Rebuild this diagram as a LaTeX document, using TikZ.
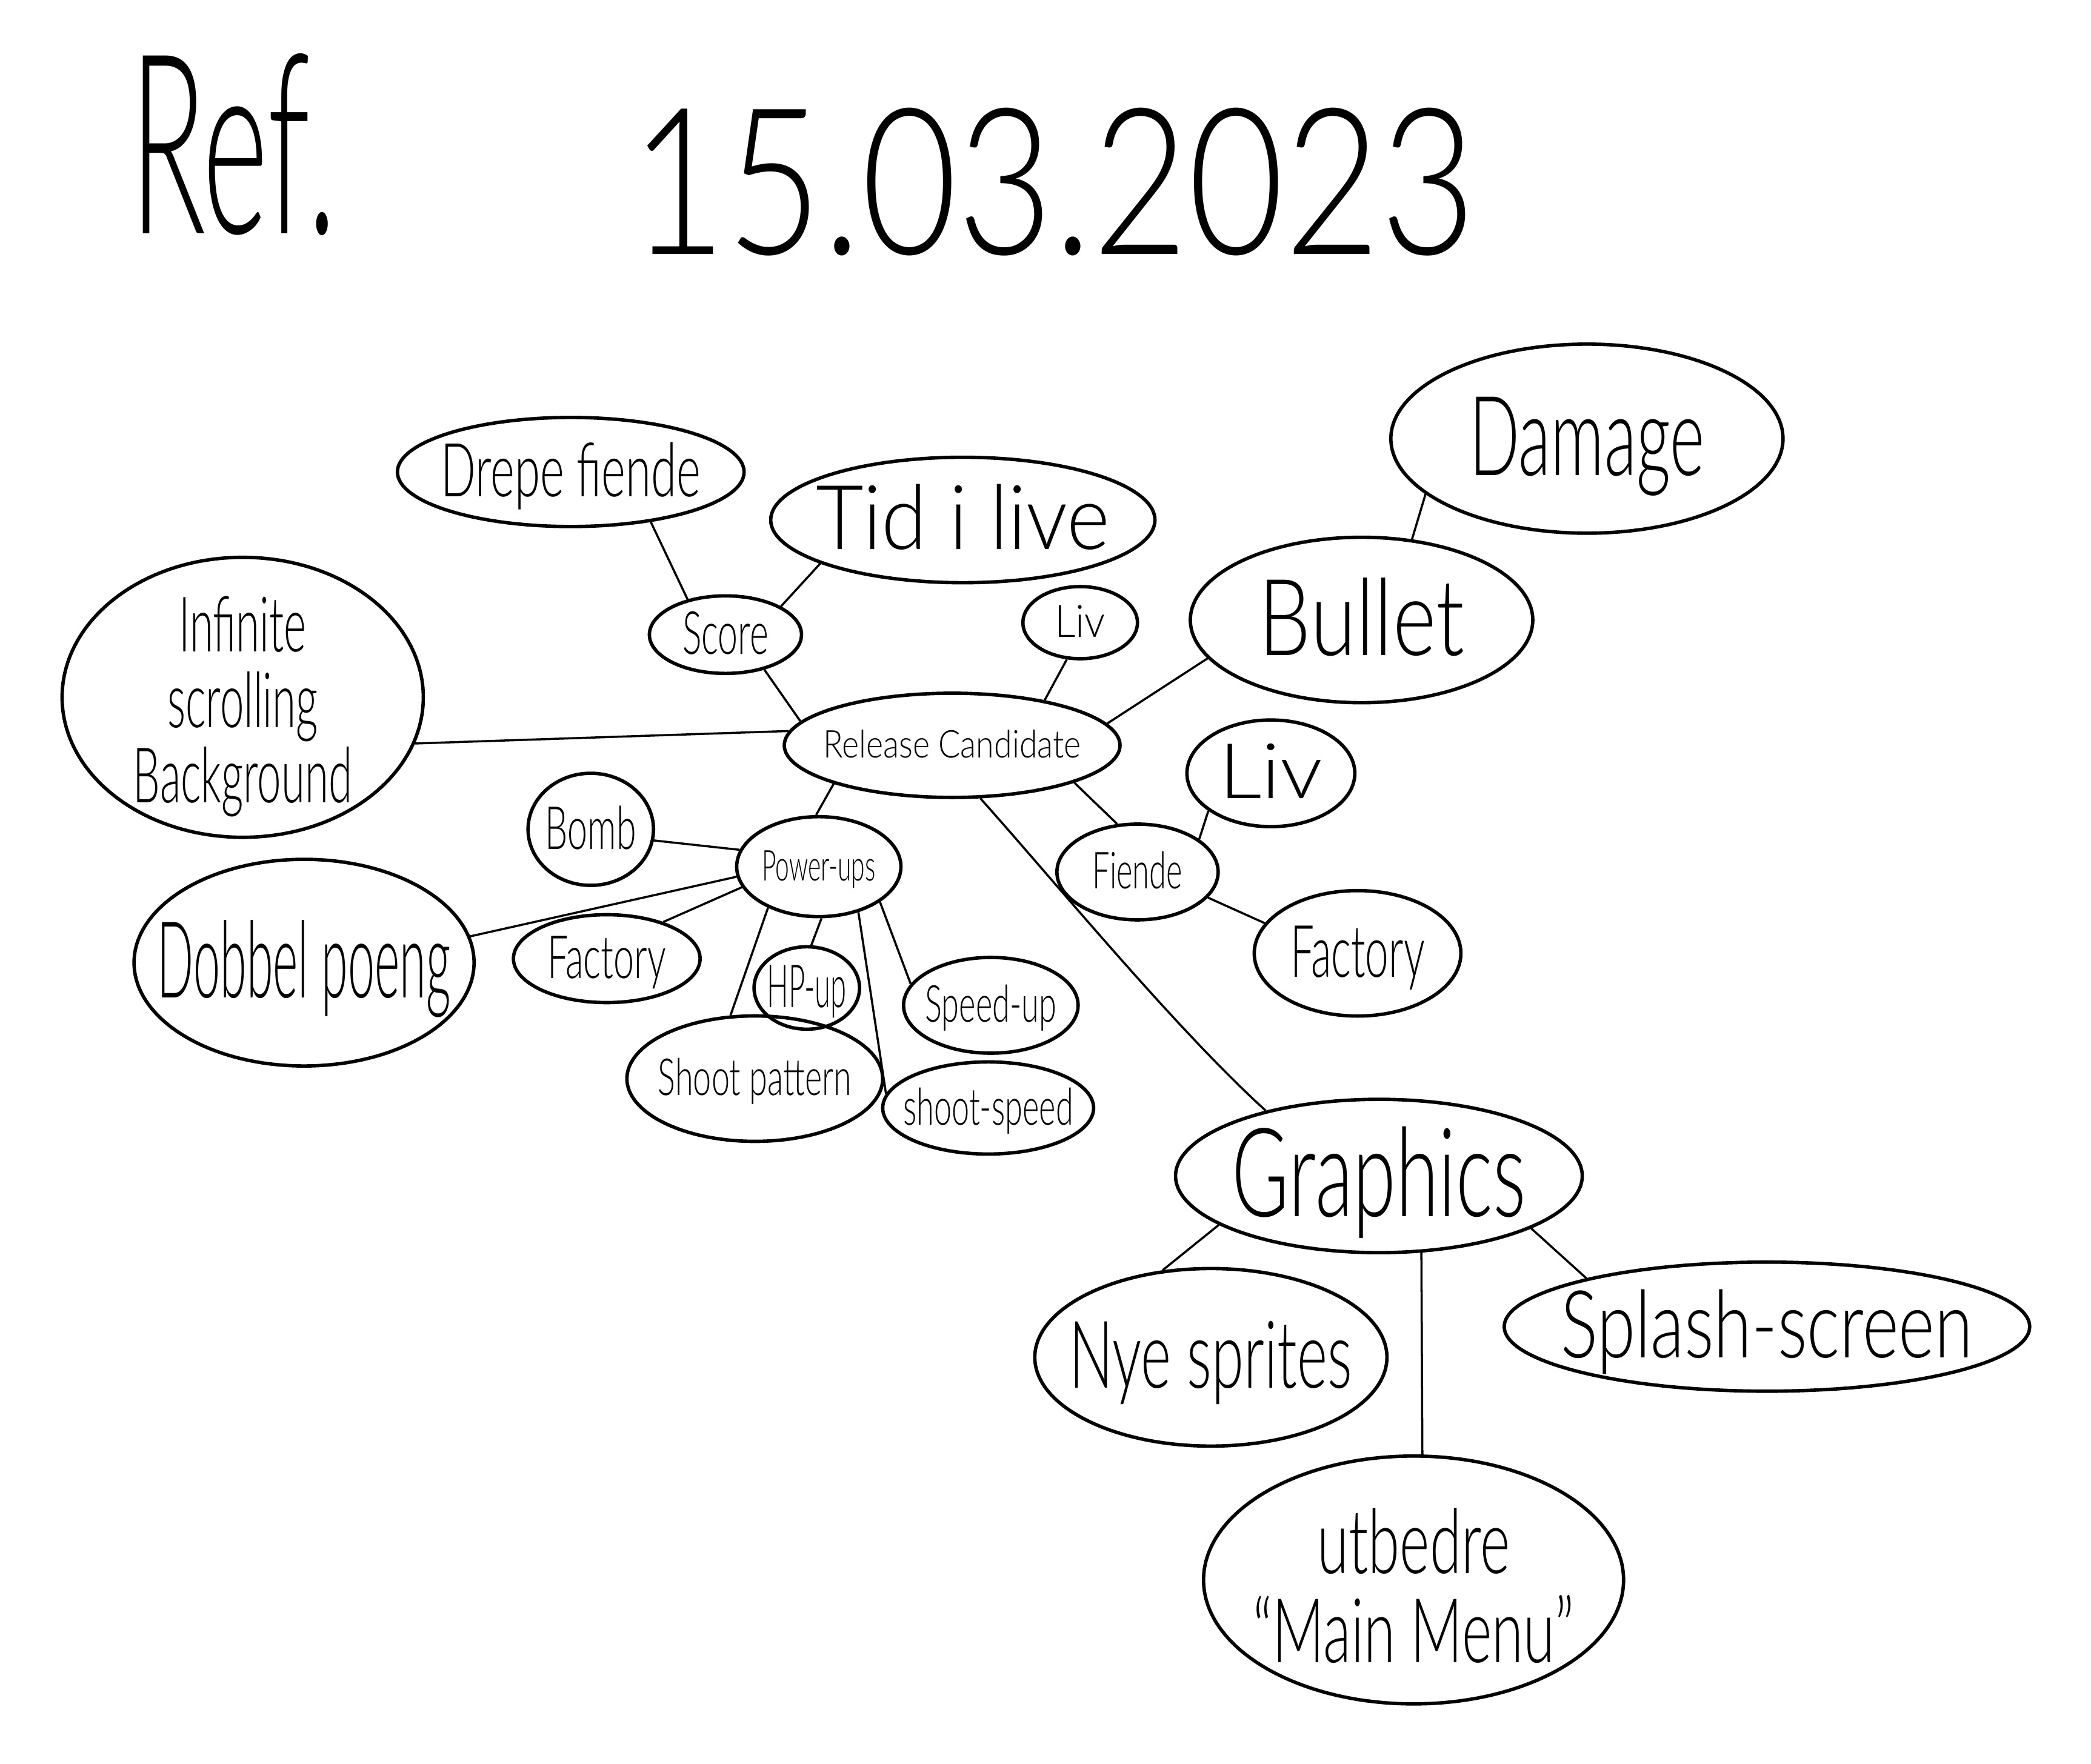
\documentclass[tikz,border=0pt]{standalone}
\usepackage{fontspec}
\setmainfont{Lato Light}
\usepackage{graphicx}
\usepackage{tikz}
\usetikzlibrary{shapes.geometric}

% narrow, centred text that takes no room inside its bubble
\newcommand{\hand}[2]{\makebox[0pt]{\raisebox{-0.33em}[0pt][0pt]{\scalebox{#1}[1]{#2}}}}

\tikzstyle{bubble} = [ellipse, draw=black, line width=1.6pt, inner sep=0pt]
\tikzstyle{link} = [line width=1pt]
\tikzset{pen/.style={font=\fontsize{#1}{#1}\selectfont}}

\begin{document}
\begin{tikzpicture}[x=0.022cm, y=-0.022cm]
\useasboundingbox (0,0) rectangle (1568,1323);

% heading
\node (ref) [pen=118] at (175,113) {\hand{0.5}{Ref.}};
\node (date) [pen=96] at (790,140) {\hand{0.81}{15.03.2023}};

% centre
\node (rc) [bubble, pen=18, minimum width=5.54cm, minimum height=1.72cm] at (714,559) {\hand{0.85}{Release Candidate}};

% score
\node (score) [bubble, pen=28, minimum width=2.51cm, minimum height=1.28cm] at (544,476) {\hand{0.6}{Score}};
\node (drepe) [bubble, pen=35, minimum width=5.72cm, minimum height=1.80cm] at (428,354) {\hand{0.62}{Drepe fiende}};
\node (tid) [bubble, pen=42, minimum width=6.34cm, minimum height=2.07cm] at (722,390) {\hand{0.92}{Tid i live}};

\node (livtop) [bubble, pen=21, minimum width=1.89cm, minimum height=1.19cm] at (810,467) {\hand{0.92}{Liv}};

% bullet
\node (bullet) [bubble, pen=50, minimum width=5.65cm, minimum height=2.73cm] at (1021,465) {\hand{0.78}{Bullet}};
\node (damage) [bubble, pen=52, minimum width=6.47cm, minimum height=3.12cm] at (1190,329) {\hand{0.6}{Damage}};

\node (infinite) [bubble, font=\fontsize{36}{31}\selectfont, minimum width=5.96cm, minimum height=4.62cm] at (182,523) {\hand{0.56}{\begin{tabular}{@{}c@{}}Infinite\\scrolling\\Background\end{tabular}}};

% enemy
\node (fiende) [bubble, pen=24, minimum width=2.66cm, minimum height=1.58cm] at (853,654) {\hand{0.6}{Fiende}};
\node (livright) [bubble, pen=36, minimum width=2.77cm, minimum height=1.76cm] at (953,580) {\hand{1.1}{Liv}};
\node (factoryr) [bubble, pen=34, minimum width=3.41cm, minimum height=2.07cm] at (1018,715) {\hand{0.58}{Factory}};

% power-ups
\node (power) [bubble, pen=20, minimum width=2.71cm, minimum height=1.65cm] at (614,650) {\hand{0.58}{Power-ups}};
\node (bomb) [bubble, pen=28, minimum width=2.07cm, minimum height=1.85cm] at (443,622) {\hand{0.6}{Bomb}};
\node (dobbel) [bubble, pen=50, minimum width=5.61cm, minimum height=3.41cm] at (228,722) {\hand{0.45}{Dobbel poeng}};
\node (factoryl) [bubble, pen=28, minimum width=3.08cm, minimum height=1.45cm] at (455,719) {\hand{0.62}{Factory}};
\node (hpup) [bubble, pen=28, minimum width=1.74cm, minimum height=1.36cm] at (605,741) {\hand{0.48}{HP-up}};
\node (speedup) [bubble, pen=24, minimum width=2.88cm, minimum height=1.58cm] at (743,754) {\hand{0.62}{Speed-up}};
\node (shootpat) [bubble, pen=24, minimum width=4.22cm, minimum height=2.07cm] at (566,809) {\hand{0.64}{Shoot pattern}};
\node (shootspeed) [bubble, pen=24, minimum width=3.48cm, minimum height=1.52cm] at (741,831) {\hand{0.62}{shoot-speed}};

% graphics
\node (graphics) [bubble, pen=58, minimum width=6.71cm, minimum height=2.53cm] at (1034,882) {\hand{0.63}{Graphics}};
\node (nye) [bubble, pen=44, minimum width=5.81cm, minimum height=2.93cm] at (908,1018) {\hand{0.62}{Nye sprites}};
\node (splash) [bubble, pen=44, minimum width=8.67cm, minimum height=2.13cm] at (1325,995) {\hand{0.74}{Splash-screen}};
\node (utbedre) [bubble, font=\fontsize{42}{34}\selectfont, minimum width=6.93cm, minimum height=4.09cm] at (1060,1185) {\hand{0.64}{\begin{tabular}{@{}c@{}}utbedre\\“Main Menu”\end{tabular}}};

\draw [link] (drepe.-32) -- (score.137);
\draw [link] (tid.197) -- (score.27);
\draw [link] (score.-42) -- (rc.171);
\draw [link] (livtop.-110) -- (rc.26);
\draw [link] (rc.8) -- (bullet.194);
\draw [link] (damage.199) -- (bullet.58);
\draw [link] (infinite.-15) -- (rc.175);
\draw [link] (rc.198) -- (power.93);
\draw [link] (rc.-17) -- (fiende.113);
\draw [link] (rc.-62) .. controls (790,660) and (880,770) .. (graphics.150);
\draw [link] (livright.211) -- (fiende.28);
\draw [link] (fiende.-20) -- (factoryr.162);
\draw [link] (bomb.-10) -- (power.168);
\draw [link] (power.187) -- (dobbel.9);
\draw [link] (power.195) -- (factoryl.33);
\draw [link] (power.-87) -- (hpup.84);
\draw [link] (power.219) -- (shootpat.111);
\draw [link] (power.-49) -- (shootspeed.172);
\draw [link] (power.-30) -- (speedup.165);
\draw [link] (graphics.197) -- (nye.119);
\draw [link] (graphics.-61) -- (utbedre.86);
\draw [link] (graphics.-19) -- (splash.165);
\end{tikzpicture}
\end{document}
